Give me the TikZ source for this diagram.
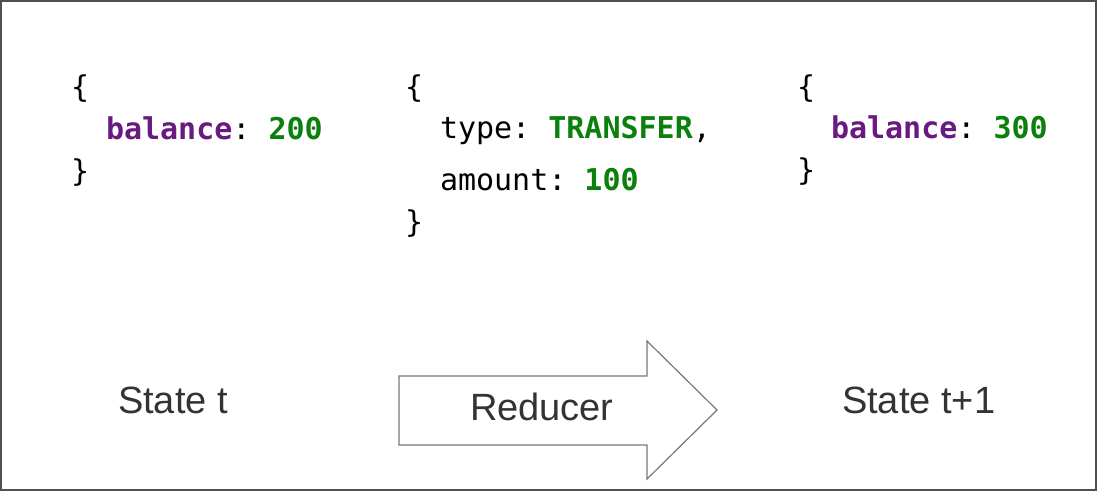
\documentclass[tikz,border=0pt]{standalone}
\usepackage{fontspec}
\setmainfont{Liberation Sans}
\setmonofont{DejaVu Sans Mono}
\definecolor{keypurple}{RGB}{104,26,128}
\definecolor{valgreen}{RGB}{12,128,12}
\definecolor{framegray}{RGB}{80,80,80}
\definecolor{arrowgray}{RGB}{120,120,120}
\definecolor{labelgray}{RGB}{51,51,51}
\tikzset{
  code/.style={anchor=base west, inner sep=0pt, outer sep=0pt, font=\ttfamily\fontsize{30}{36}\selectfont, text=black},
  label/.style={anchor=base west, inner sep=0pt, outer sep=0pt, font=\fontsize{38}{44}\selectfont, text=labelgray},
}
\newcommand{\kw}[1]{\textcolor{keypurple}{\bfseries #1}}
\newcommand{\vl}[1]{\textcolor{valgreen}{\bfseries #1}}
\begin{document}
\begin{tikzpicture}[x=1pt,y=-1pt]
\useasboundingbox (0,0) rectangle (1101,491);
\draw[framegray, line width=1.5pt] (0.75,0.75) rectangle (1096,490);
% left state
\node[code] (l1) at (71,97) {\{};
\node[code] (l2) at (106,139) {\kw{balance}: \vl{200}};
\node[code] (l3) at (71,181) {\}};
% action
\node[code] (a1) at (405,97) {\{};
\node[code] (a2) at (440,138) {type: \vl{TRANSFER},};
\node[code] (a3) at (440,190) {amount: \vl{100}};
\node[code] (a4) at (405,232) {\}};
% right state
\node[code] (r1) at (797,97) {\{};
\node[code] (r2) at (831,138) {\kw{balance}: \vl{300}};
\node[code] (r3) at (797,180) {\}};
% arrow
\draw[arrowgray, line width=1.2pt, line join=miter, fill=white]
  (399,376) -- (647,376) -- (647,341) -- (717,410) -- (647,479) -- (647,445) -- (399,445) -- cycle;
\node[label] (red) at (470,420) {Reducer};
\node[label] (st) at (118,413) {State t};
\node[label] (st1) at (842,413) {State t+1};
\end{tikzpicture}
\end{document}
